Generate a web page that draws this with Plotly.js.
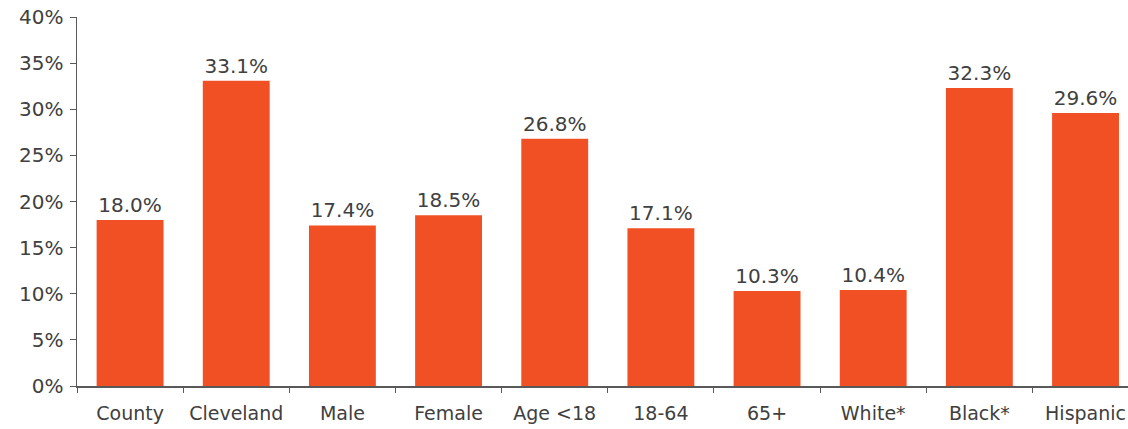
<!DOCTYPE html>
<html>
<head>
<meta charset="utf-8">
<script src="https://cdn.plot.ly/plotly-3.0.1.min.js"></script>
<style>html,body{margin:0;padding:0;background:#fff;}#chart{width:1128px;height:429px;}</style>
</head>
<body>
<div id="chart"></div>
<script>
const categories = ["County", "Cleveland", "Male", "Female", "Age <18", "18-64", "65+", "White*", "Black*", "Hispanic"];
const values = [18.0, 33.1, 17.4, 18.5, 26.8, 17.1, 10.3, 10.4, 32.3, 29.6];
const labels = values.map(v => v.toFixed(1) + "%");
const yTicks = [0, 5, 10, 15, 20, 25, 30, 35, 40];
const yTickText = yTicks.map(v => v + "%");

const family = "DejaVu Sans, Verdana, sans-serif";
const textColor = "#404040";

Plotly.newPlot("chart", [{
  type: "bar",
  x: categories,
  y: values,
  text: labels,
  textposition: "outside",
  cliponaxis: false,
  textfont: {family: family, size: 20, color: textColor},
  marker: {color: "#F05024"},
  width: 0.63,
  hoverinfo: "none"
}], {
  width: 1128, height: 429,
  margin: {l: 77, r: 0, t: 17, b: 43},
  paper_bgcolor: "#fff", plot_bgcolor: "#fff",
  font: {family: family, size: 18, color: textColor},
  showlegend: false,
  xaxis: {
    type: "category",
    range: [-0.5, 9.4],
    showline: true, linecolor: "#595959", linewidth: 1.5,
    ticks: "outside", tickson: "boundaries", ticklen: 5, tickcolor: "#595959",
    ticklabelstandoff: 10,
    showgrid: false, zeroline: false,
    tickfont: {family: family, size: 19, color: textColor}
  },
  yaxis: {
    range: [0, 40],
    tickvals: yTicks, ticktext: yTickText,
    showline: true, linecolor: "#595959", linewidth: 1.5,
    ticks: "outside", ticklen: 6, tickcolor: "#595959",
    ticklabelstandoff: 2,
    showgrid: false, zeroline: false,
    tickfont: {family: family, size: 20, color: textColor}
  }
}, {staticPlot: true});
</script>
</body>
</html>
